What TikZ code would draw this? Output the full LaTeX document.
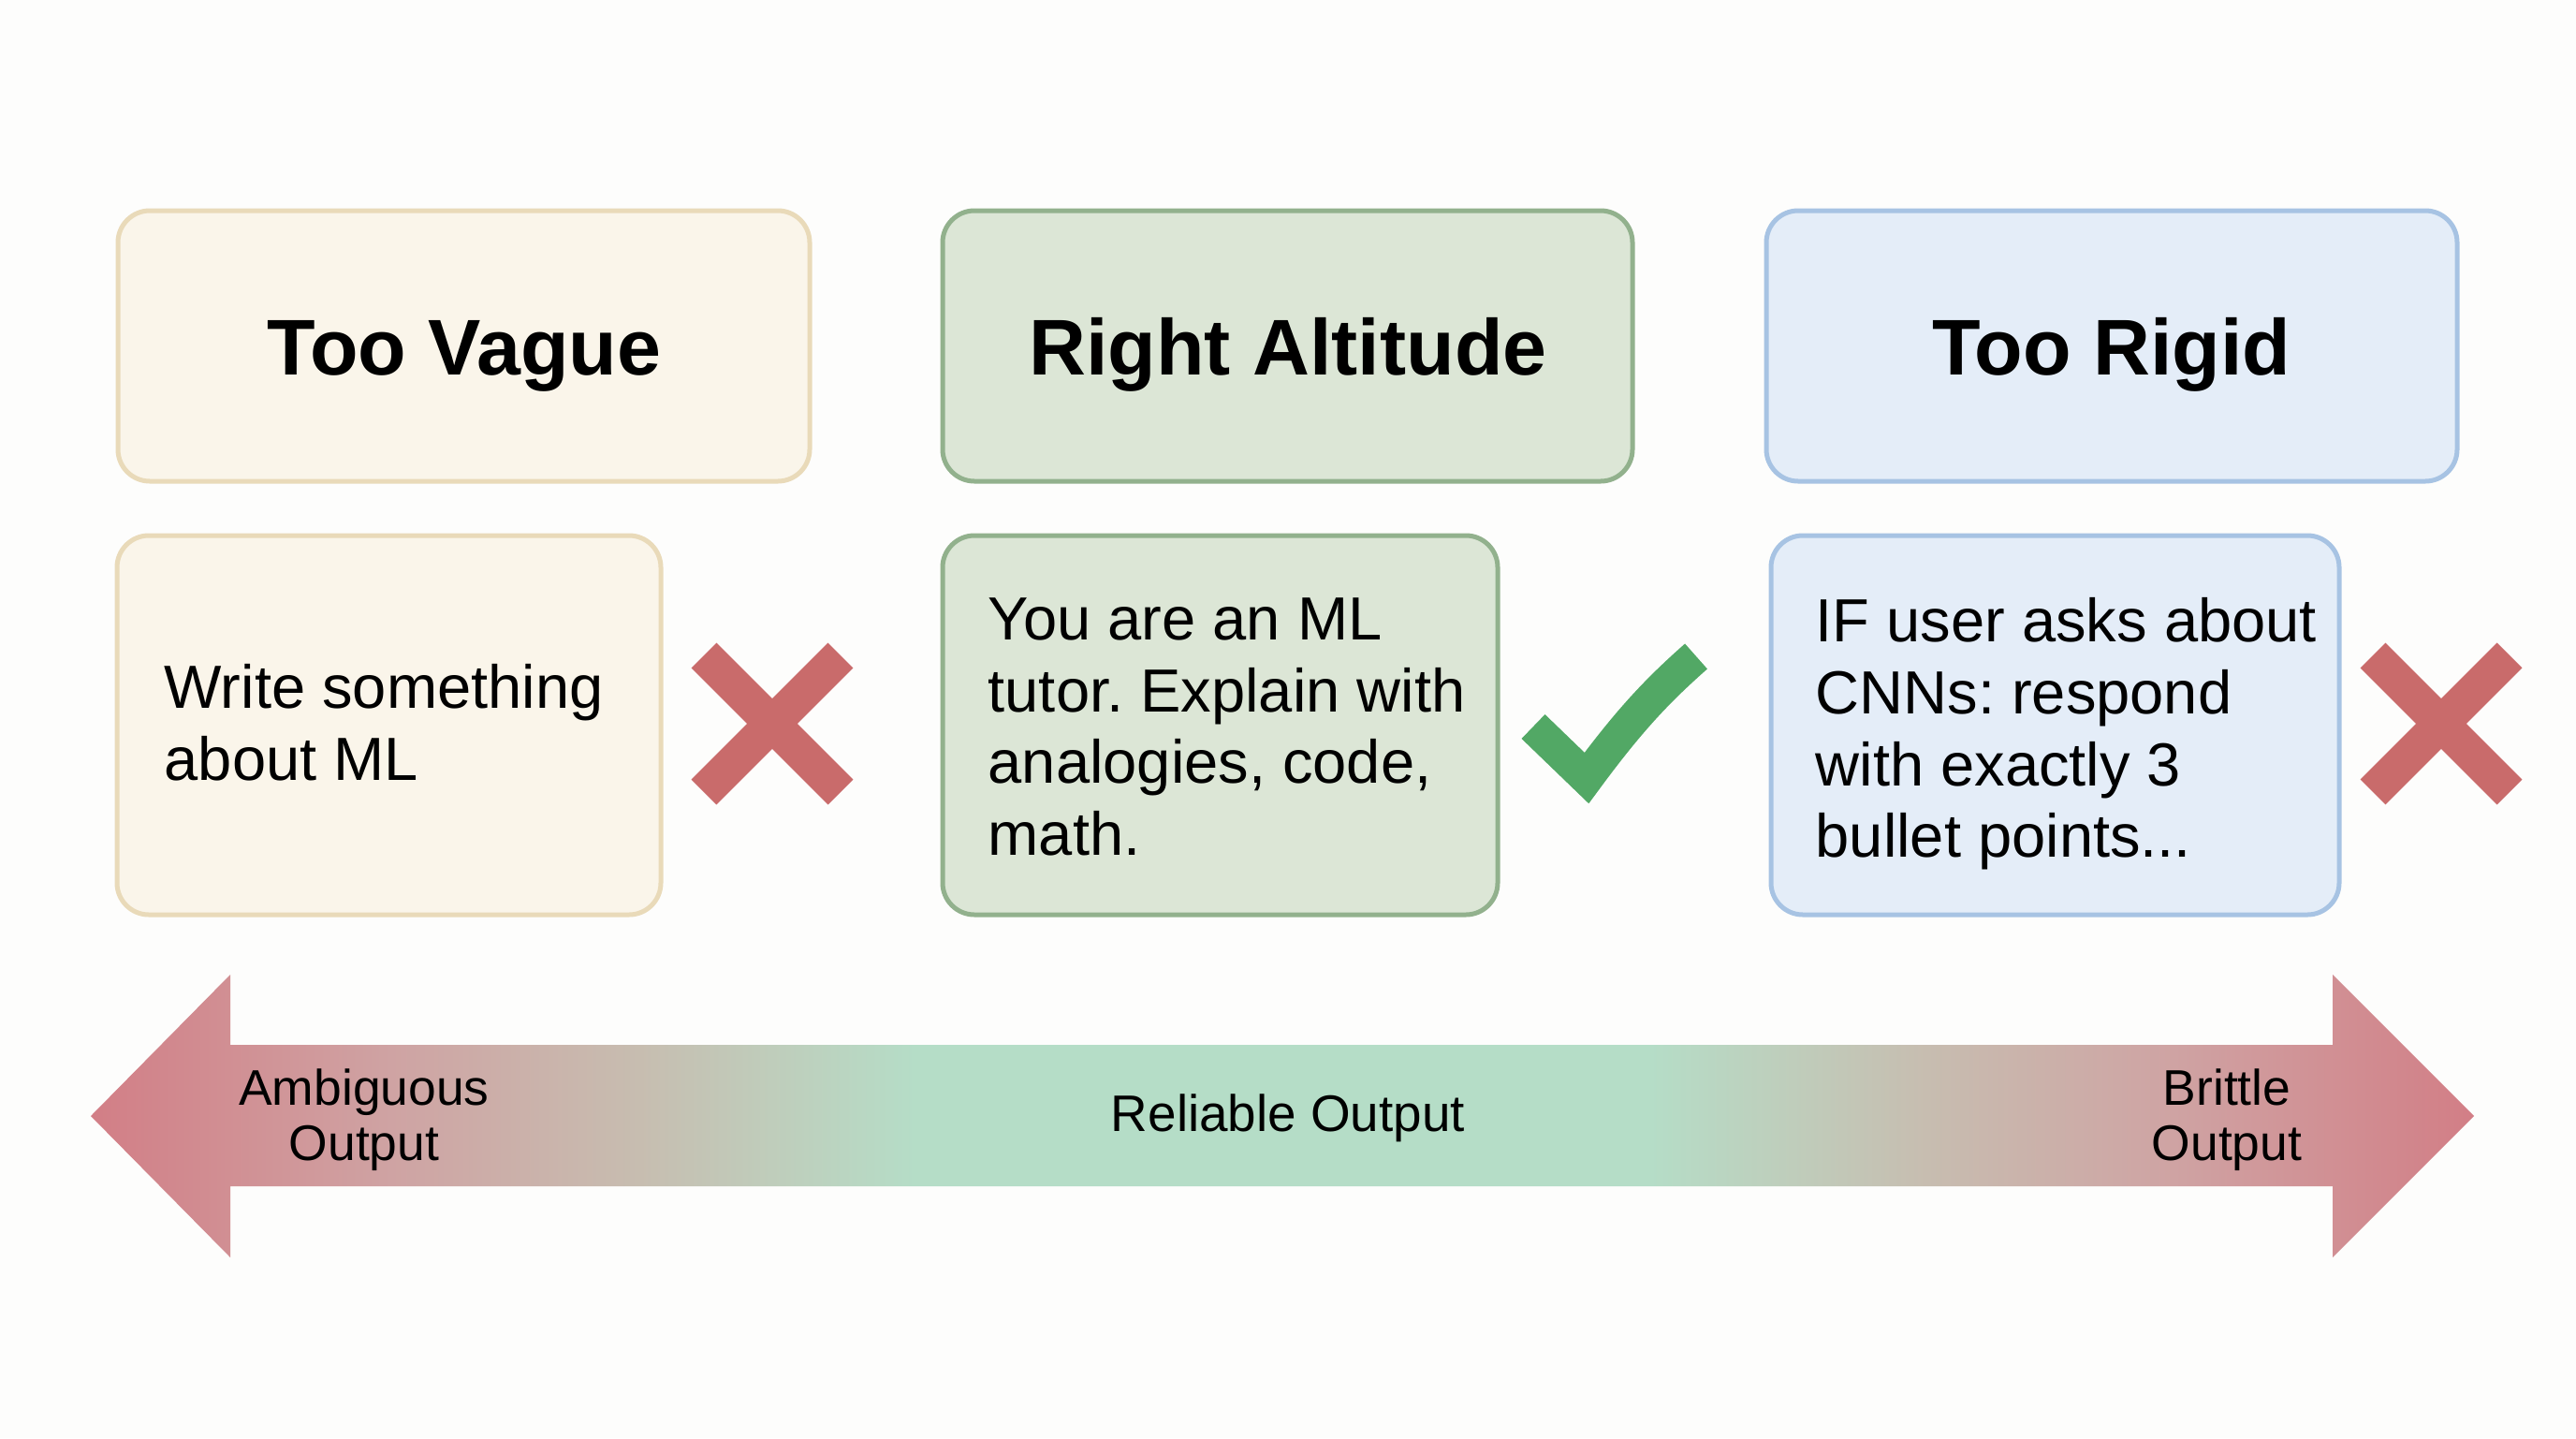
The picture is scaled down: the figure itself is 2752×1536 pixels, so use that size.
\documentclass[tikz,border=0pt]{standalone}
\usepackage{fontspec}
\setmainfont{Liberation Sans}
\usetikzlibrary{calc}
\frenchspacing
\definecolor{bgc}{HTML}{FDFDFC}
\definecolor{vagueFill}{HTML}{FAF5EA}
\definecolor{vagueLine}{HTML}{E9DAB9}
\definecolor{rightFill}{HTML}{DCE6D6}
\definecolor{rightLine}{HTML}{92B18D}
\definecolor{rigidFill}{HTML}{E4EDF8}
\definecolor{rigidLine}{HTML}{A7C3E3}
\definecolor{crossRed}{HTML}{C96B6B}
\definecolor{checkGreen}{HTML}{52A865}
\definecolor{arRed}{HTML}{D27E86}
\definecolor{arPink}{HTML}{CFA3A3}
\definecolor{arTan}{HTML}{C7BDB0}
\definecolor{arSage}{HTML}{BFCDBB}
\definecolor{arGreen}{HTML}{B5DDC7}
\pgfdeclarehorizontalshading{spectrumshade}{100bp}{color(0bp)=(arRed); color(25bp)=(arRed); color(31.3bp)=(arPink); color(36.5bp)=(arTan); color(39.3bp)=(arSage); color(42.3bp)=(arGreen); color(50bp)=(arGreen); color(57.7bp)=(arGreen); color(60.7bp)=(arSage); color(63.5bp)=(arTan); color(68.7bp)=(arPink); color(75bp)=(arRed); color(100bp)=(arRed)}
\begin{document}
\begin{tikzpicture}[x=0.01cm,y=-0.01cm,
  boxbase/.style={draw, line width=0.05cm, rounded corners=0.34cm},
  vague/.style={boxbase, fill=vagueFill, draw=vagueLine},
  rightalt/.style={boxbase, fill=rightFill, draw=rightLine},
  rigid/.style={boxbase, fill=rigidFill, draw=rigidLine},
  title/.style={font=\fontsize{24pt}{26pt}\selectfont\bfseries, text height=17.2pt, text depth=0pt, inner sep=0pt, anchor=center},
  body/.style={font=\fontsize{18.5pt}{21.8pt}\selectfont, align=left, inner sep=0pt, anchor=north west},
  arlabel/.style={font=\fontsize{15.2pt}{16.6pt}\selectfont, align=center, inner sep=0pt},
  crossbar/.style={draw=crossRed, line width=0.38cm, line cap=butt},
  checkstroke/.style={draw=checkGreen, line width=0.36cm, line cap=butt, line join=miter}
]
\fill[bgc] (0,0) rectangle (2752,1536);
\useasboundingbox (0,0) rectangle (2752,1536);

% top title boxes
\draw[vague] (126,225) rectangle (865,514);
\draw[rightalt] (1007,225) rectangle (1744,514);
\draw[rigid] (1887,225) rectangle (2625,514);
\node[title] (tvague) at (496,370) {Too Vague};
\node[title] (tright) at (1376,370) {Right Altitude};
\node[title] (trigid) at (2256,370) {Too Rigid};

% example boxes
\draw[vague] (125,572) rectangle (706,977);
\draw[rightalt] (1007,572) rectangle (1600,977);
\draw[rigid] (1892,572) rectangle (2499,977);
\node[body] (bvague) at (175,709) {Write something\\about ML};
\node[body] (bright) at (1055,638) {You are an ML\\tutor. Explain with\\analogies, code,\\math.};
\node[body] (brigid) at (1939,638) {IF user asks about\\CNNs: respond\\with exactly 3\\bullet points...};

% marks
\coordinate (x1) at (825,773);
\draw[crossbar] ($(x1)+(-73,-73)$) -- ($(x1)+(73,73)$);
\draw[crossbar] ($(x1)+(-73,73)$) -- ($(x1)+(73,-73)$);
\coordinate (x2) at (2608,773);
\draw[crossbar] ($(x2)+(-73,-73)$) -- ($(x2)+(73,73)$);
\draw[crossbar] ($(x2)+(-73,73)$) -- ($(x2)+(73,-73)$);
\draw[checkstroke] (1638,776) -- (1695,831) .. controls (1740,770) and (1770,738) .. (1812,701);

% double arrow
\shade[shading=spectrumshade] (97,1192) -- (246,1041) -- (246,1116) -- (2492,1116) -- (2492,1041) -- (2643,1192) -- (2492,1343) -- (2492,1267) -- (246,1267) -- (246,1343) -- cycle;
\node[arlabel] (lamb) at (389,1196) {Ambiguous\\Output};
\node[arlabel, font=\fontsize{15.6pt}{17pt}\selectfont] (lrel) at (1376,1194) {Reliable Output};
\node[arlabel] (lbri) at (2379,1196) {Brittle\\Output};
\end{tikzpicture}
\end{document}
